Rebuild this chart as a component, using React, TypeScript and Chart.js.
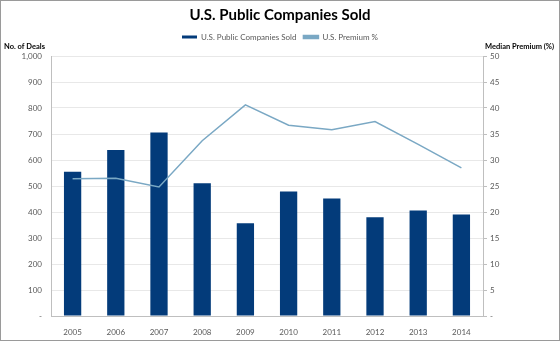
import React, { useEffect, useRef } from "react";
import { Chart, registerables } from "chart.js";

Chart.register(...registerables);

const years = ["2005", "2006", "2007", "2008", "2009", "2010", "2011", "2012", "2013", "2014"];
const dealsSold = [555, 638, 706, 511, 357, 479, 452, 380, 406, 390];
const premiumPct = [26.4, 26.5, 24.8, 33.7, 40.6, 36.7, 35.8, 37.4, 33.0, 28.5];

const FONT = "Lato, 'Open Sans', sans-serif";
const TICK_COLOR = "#595959";

const legendSpacer = {
  id: "legendSpacer",
  beforeInit(chart: any) {
    const legend = chart.legend;
    if (!legend) return;
    const origFit = legend.fit;
    legend.fit = function () {
      origFit.call(this);
      this.height += 5;
    };
  },
};

const framePlugin = {
  id: "frame",
  beforeDraw(chart: any) {
    const ctx = chart.ctx;
    ctx.save();
    ctx.fillStyle = "#ffffff";
    ctx.fillRect(0, 0, chart.width, chart.height);
    ctx.restore();
  },
  afterDraw(chart: any) {
    const ctx = chart.ctx;
    ctx.save();
    ctx.strokeStyle = "#9a9a9a";
    ctx.lineWidth = 1;
    ctx.strokeRect(0.5, 0.5, chart.width - 1, chart.height - 1);
    ctx.fillStyle = "#000000";
    ctx.font = `bold 7.5px ${FONT}`;
    ctx.textBaseline = "middle";
    ctx.textAlign = "left";
    ctx.fillText("No. of Deals", 4, 47);
    ctx.fillText("Median Premium (%)", 485, 47);
    ctx.restore();
  },
};

export default function App() {
  const ref = useRef<HTMLCanvasElement>(null);
  useEffect(() => {
    document.body.style.margin = "0";
    const chart = new Chart(ref.current!, {
      type: "bar",
      data: {
        labels: years,
        datasets: [
          {
            type: "bar",
            label: "U.S. Public Companies Sold",
            data: dealsSold,
            backgroundColor: "#033b7a",
            borderWidth: 0,
            barPercentage: 0.4,
            categoryPercentage: 1,
            yAxisID: "y",
            order: 2,
          },
          {
            type: "line",
            label: "U.S. Premium %",
            data: premiumPct,
            borderColor: "#7aa8c4",
            backgroundColor: "#7aa8c4",
            borderWidth: 1.5,
            pointRadius: 0,
            tension: 0,
            yAxisID: "y1",
            order: 1,
          },
        ],
      },
      options: {
        responsive: false,
        animation: false,
        layout: { padding: { left: 0, right: 0, top: 0, bottom: 0 } },
        plugins: {
          title: {
            display: true,
            text: "U.S. Public Companies Sold",
            font: { family: FONT, size: 15, weight: "bold" },
            color: "#000000",
            padding: { top: 6, bottom: 2 },
          },
          legend: {
            display: true,
            position: "top",
            labels: {
              boxWidth: 15,
              boxHeight: 3,
              font: { family: FONT, size: 8 },
              color: TICK_COLOR,
              padding: 7,
              sort: (a: any, b: any) => a.datasetIndex - b.datasetIndex,
            },
          },
          tooltip: { enabled: false },
        },
        scales: {
          x: {
            grid: { display: false },
            border: { display: true, color: "#bfbfbf" },
            ticks: { font: { family: FONT, size: 8 }, color: TICK_COLOR, padding: 4 },
            afterFit: (s: any) => { s.height = 25; },
          },
          y: {
            position: "left",
            min: 0,
            max: 1000,
            ticks: {
              stepSize: 100,
              font: { family: FONT, size: 8 },
              color: TICK_COLOR,
              padding: 9,
              callback: (v: any) => (v === 0 ? "-" : Number(v).toLocaleString("en-US")),
            },
            grid: { color: "#e8e8e8", drawTicks: false },
            border: { display: true, color: "#bfbfbf" },
            afterFit: (s: any) => { s.width = 51; },
          },
          y1: {
            position: "right",
            min: 0,
            max: 50,
            ticks: {
              stepSize: 5,
              font: { family: FONT, size: 8 },
              color: TICK_COLOR,
              padding: 3,
              callback: (v: any) => (v === 0 ? "-" : String(v)),
            },
            grid: { drawOnChartArea: false, color: "#bfbfbf", tickLength: 4 },
            border: { display: true, color: "#bfbfbf" },
            afterFit: (s: any) => { s.width = 77; },
          },
        },
      },
      plugins: [legendSpacer, framePlugin],
    });
    return () => chart.destroy();
  }, []);
  return <canvas ref={ref} width={560} height={341} style={{ display: "block" }} />;
}
